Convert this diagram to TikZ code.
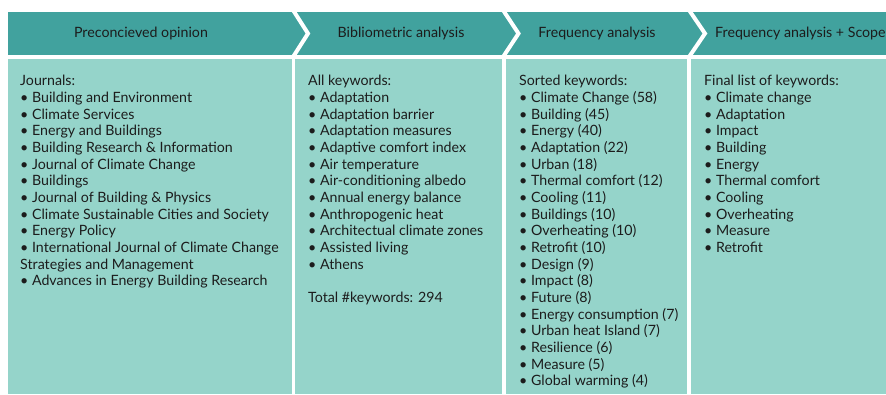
\documentclass[tikz,border=0pt]{standalone}
\usepackage{fontspec}
\setmainfont{Lato}
\definecolor{headteal}{HTML}{41A29E}
\definecolor{panelteal}{HTML}{95D4CA}
\definecolor{txt}{HTML}{1C1C1C}
\begin{document}
\begin{tikzpicture}[x=1pt,y=-1pt,
  hdr/.style={font=\fontsize{14.2}{16}\selectfont, text=txt, inner sep=0pt},
  item/.style={font=\fontsize{14.2}{16}\selectfont, text=txt, inner sep=0pt, anchor=base west},
  sep/.style={draw=white, line width=4pt}]
\useasboundingbox (0,0) rectangle (886,394);
% header band and panels
\fill[headteal] (8,12) rectangle (886,55);
\fill[panelteal] (8,58.5) rectangle (886,394);
% panel separators
\draw[white, line width=3.5pt] (293.5,57) -- (293.5,394);
\draw[white, line width=3.5pt] (504,57) -- (504,394);
\draw[white, line width=3.5pt] (689,57) -- (689,394);
% chevrons
\draw[sep, line join=miter] (293,10) -- (308,33.5) -- (293,57);
\draw[sep, line join=miter] (503,10) -- (518.5,33.5) -- (503,57);
\draw[sep, line join=miter] (689,10) -- (705,33.5) -- (689,57);
% header texts
\node[hdr] (h1) at (141,33.5) {Preconcieved opinion};
\node[hdr] (h2) at (401,33.5) {Bibliometric analysis};
\node[hdr] (h3) at (597,33.5) {Frequency analysis};
\node[hdr, anchor=west] (h4) at (715,33.5) {Frequency analysis + Scope};
% panel 1
\foreach \t [count=\i from 0] in {Journals:,
  • Building and Environment,
  • Climate Services,
  • Energy and Buildings,
  • Building Research \& Information,
  • Journal of Climate Change,
  • Buildings,
  • Journal of Building \& Physics,
  • Climate Sustainable Cities and Society,
  • Energy Policy,
  • International Journal of Climate Change,
  Strategies and Management,
  • Advances in Energy Building Research}
  \node[item] (a\i) at (20,85.7+16.67*\i) {\t};
% panel 2
\foreach \t [count=\i from 0] in {All keywords:,
  • Adaptation,
  • Adaptation barrier,
  • Adaptation measures,
  • Adaptive comfort index,
  • Air temperature,
  • Air-conditioning albedo,
  • Annual energy balance,
  • Anthropogenic heat,
  • Architectual climate zones,
  • Assisted living,
  • Athens}
  \node[item] (b\i) at (308,85.7+16.67*\i) {\t};
\node[item] (btot) at (308,85.7+16.67*13) {Total \#keywords: 294};
% panel 3
\foreach \t [count=\i from 0] in {Sorted keywords:,
  • Climate Change (58),
  • Building (45),
  • Energy (40),
  • Adaptation (22),
  • Urban (18),
  • Thermal comfort (12),
  • Cooling (11),
  • Buildings (10),
  • Overheating (10),
  • Retrofit (10),
  • Design (9),
  • Impact (8),
  • Future (8),
  • Energy consumption (7),
  • Urban heat Island (7),
  • Resilience (6),
  • Measure (5),
  • Global warming (4)}
  \node[item] (c\i) at (519,85.7+16.67*\i) {\t};
% panel 4
\foreach \t [count=\i from 0] in {Final list of keywords:,
  • Climate change,
  • Adaptation,
  • Impact,
  • Building,
  • Energy,
  • Thermal comfort,
  • Cooling,
  • Overheating,
  • Measure,
  • Retrofit}
  \node[item] (d\i) at (704,85.7+16.67*\i) {\t};
\end{tikzpicture}
\end{document}
